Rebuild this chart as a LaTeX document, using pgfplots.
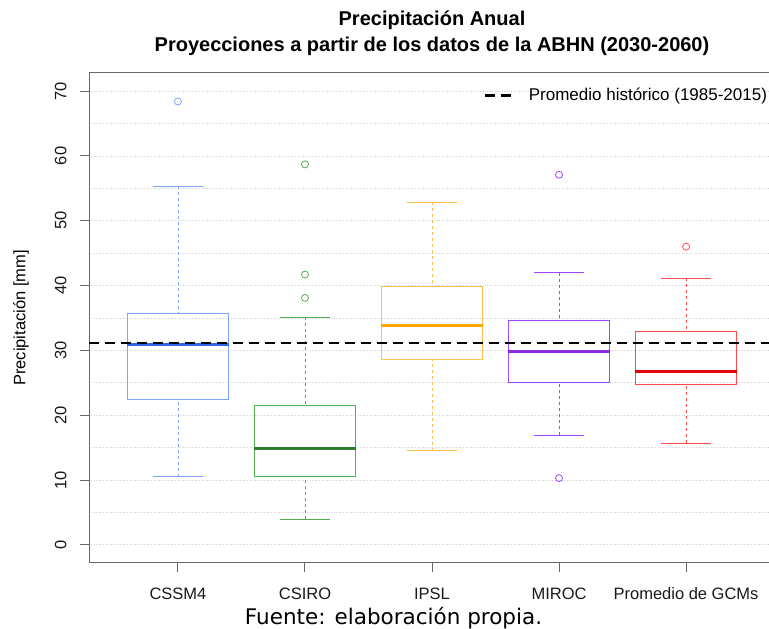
\documentclass[border=0pt]{standalone}
\usepackage{pgfplots}
\pgfplotsset{compat=1.18}
\usepgfplotslibrary{statistics}
\usepackage{fontspec}
\setmainfont{Liberation Sans}
\newfontfamily\dejavu{DejaVu Sans}
\definecolor{c1box}{HTML}{7FA2FF}
\definecolor{c1med}{HTML}{3366E6}
\definecolor{c2box}{HTML}{4CAF50}
\definecolor{c2med}{HTML}{2E7D32}
\definecolor{c3box}{HTML}{FFBE4D}
\definecolor{c3med}{HTML}{FFA500}
\definecolor{c4box}{HTML}{A347FF}
\definecolor{c4med}{HTML}{8A2BE2}
\definecolor{c5box}{HTML}{FF4D4D}
\definecolor{c5med}{HTML}{E60000}
\pgfplotsset{
  /pgfplots/boxplot/draw direction=y,
  /pgfplots/boxplot/draw/lower whisker/.code={%
    \draw[/pgfplots/boxplot/every whisker/.try, dash pattern=on 3pt off 3pt]
      (boxplot box cs:\pgfplotsboxplotvalue{lower whisker},0.5) --
      (boxplot box cs:\pgfplotsboxplotvalue{lower quartile},0.5);
    \draw[/pgfplots/boxplot/every whisker/.try, solid]
      (boxplot whisker cs:\pgfplotsboxplotvalue{lower whisker},0) --
      (boxplot whisker cs:\pgfplotsboxplotvalue{lower whisker},1);
  },
  /pgfplots/boxplot/draw/upper whisker/.code={%
    \draw[/pgfplots/boxplot/every whisker/.try, dash pattern=on 3pt off 3pt]
      (boxplot box cs:\pgfplotsboxplotvalue{upper whisker},0.5) --
      (boxplot box cs:\pgfplotsboxplotvalue{upper quartile},0.5);
    \draw[/pgfplots/boxplot/every whisker/.try, solid]
      (boxplot whisker cs:\pgfplotsboxplotvalue{upper whisker},0) --
      (boxplot whisker cs:\pgfplotsboxplotvalue{upper whisker},1);
  },
  rbox/.style 2 args={forget plot, draw=#1, line width=0.8pt, mark=o, mark size=3.5pt,
    mark options={solid, draw=#1, fill=none},
    boxplot/every box/.style={draw=#1, line width=0.8pt},
    boxplot/every whisker/.style={draw=#1, line width=0.8pt},
    boxplot/every median/.style={draw=#2, line width=3pt}},
}
\newcommand\tfont{\fontsize{16.5}{19}\selectfont}
\begin{document}
\begin{tikzpicture}
\begin{axis}[
  at={(89pt,66pt)}, anchor=south west,
  scale only axis, width=686pt, height=490pt,
  xmin=0.3, xmax=5.7, ymin=-2.8, ymax=72.8,
  xtick={1,2,3,4,5},
  xticklabels={CSSM4,CSIRO,IPSL,MIROC,Promedio de GCMs},
  ytick={0,10,...,70}, minor ytick={5,15,...,65},
  ymajorgrids, yminorgrids,
  major grid style={draw=black!18, dotted, line width=0.8pt},
  minor grid style={draw=black!18, dotted, line width=0.8pt},
  tick align=outside, major tick length=9pt, minor tick length=0pt,
  xtick pos=bottom, ytick pos=left,
  axis line style={draw=black!60, line width=1pt},
  major tick style={draw=black!60, line width=1pt},
  /pgf/number format/assume math mode=true,
  yticklabel style={rotate=90, anchor=south, font=\tfont, text=black!90},
  yticklabel shift=10pt,
  xticklabel style={font=\tfont, text=black!90},
  xticklabel shift=12pt,
  ylabel={Precipitación [mm]},
  ylabel style={at={(axis description cs:-0.0991,0.5)}, anchor=center, font=\tfont},
  legend style={at={(0.993,0.975)}, anchor=north east, draw=none, fill=none,
    font=\fontsize{17}{20}\selectfont, inner sep=1pt,
    /tikz/every odd column/.append style={column sep=15pt}},
  legend image code/.code={\draw[#1] (0pt,0pt) -- (26pt,0pt);},
]
\addplot[rbox={c1box}{c1med},
  boxplot prepared={draw position=1, lower whisker=10.5, lower quartile=22.4,
    median=30.9, upper quartile=35.7, upper whisker=55.3,
    box extend=0.8, whisker extend=0.4}]
  table[row sep=\\, y index=0] {y\\ 68.4\\};
\addplot[rbox={c2box}{c2med},
  boxplot prepared={draw position=2, lower whisker=4.0, lower quartile=10.6,
    median=14.9, upper quartile=21.5, upper whisker=35.1,
    box extend=0.8, whisker extend=0.4}]
  table[row sep=\\, y index=0] {y\\ 58.7\\ 41.7\\ 38.1\\};
\addplot[rbox={c3box}{c3med},
  boxplot prepared={draw position=3, lower whisker=14.5, lower quartile=28.6,
    median=33.9, upper quartile=39.9, upper whisker=52.9,
    box extend=0.8, whisker extend=0.4}]
  coordinates {};
\addplot[rbox={c4box}{c4med},
  boxplot prepared={draw position=4, lower whisker=16.9, lower quartile=25.1,
    median=29.9, upper quartile=34.6, upper whisker=42.0,
    box extend=0.8, whisker extend=0.4}]
  table[row sep=\\, y index=0] {y\\ 57.1\\ 10.3\\};
\addplot[rbox={c5box}{c5med},
  boxplot prepared={draw position=5, lower whisker=15.7, lower quartile=24.7,
    median=26.8, upper quartile=32.9, upper whisker=41.1,
    box extend=0.8, whisker extend=0.4}]
  table[row sep=\\, y index=0] {y\\ 46.0\\};
\addplot[black, line width=2.2pt, dash pattern=on 10pt off 6pt]
  coordinates {(0.3,31.2) (5.7,31.2)};
\addlegendentry{Promedio histórico (1985-2015)}
\end{axis}
\node[font=\bfseries\fontsize{20}{26}\selectfont, align=center] at (432pt,596pt)
  {Precipitación Anual\\Proyecciones a partir de los datos de la ABHN (2030-2060)};
\node[font=\dejavu\fontsize{21.5}{24}\selectfont] at (393.5pt,11pt) {Fuente: elaboración propia.};
\pgfresetboundingbox
\path[use as bounding box] (0pt,0pt) rectangle (769pt,629pt);
\end{tikzpicture}
\end{document}
